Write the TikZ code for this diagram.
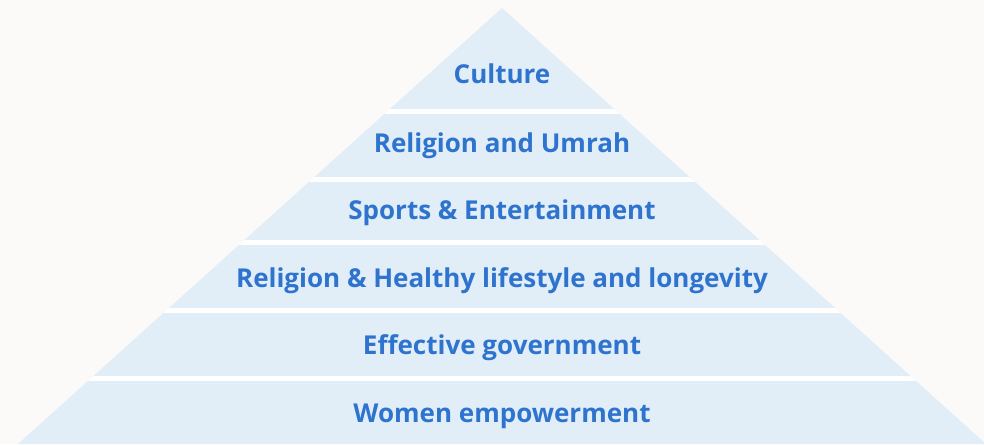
\documentclass[tikz,border=0pt]{standalone}
\usepackage{fontspec}
\setmainfont{Open Sans}
\definecolor{pagebg}{HTML}{FBFAF8}
\definecolor{layerfill}{HTML}{E1EEF7}
\definecolor{layertext}{HTML}{2E74CF}
\begin{document}
\begin{tikzpicture}[x=1pt,y=-1pt,
    layer/.style={anchor=base,text=layertext,font=\bfseries\fontsize{26}{30}\selectfont}]
  \fill[pagebg] (0,0) rectangle (984,444);
  \useasboundingbox (0,0) rectangle (984,444);
  % pyramid body
  \begin{scope}
    \clip (0,0) rectangle (984,444);
    \fill[layerfill] (502,8) -- (18,444) -- (986,444) -- cycle;
    \clip (502,8) -- (18,444) -- (986,444) -- cycle;
    \foreach \y in {111.5,179.5,242.5,310.5,378.5}
      \draw[white,line width=4.5pt] (0,\y) -- (984,\y);
  \end{scope}
  % layer labels, top to bottom
  \node[layer] (culture)  at (502,83)  {Culture};
  \node[layer] (umrah)    at (502,152) {Religion and Umrah};
  \node[layer] (sports)   at (502,219) {Sports \& Entertainment};
  \node[layer] (health)   at (502,287) {Religion \& Healthy lifestyle and longevity};
  \node[layer] (govt)     at (502,354) {Effective government};
  \node[layer] (women)    at (502,422) {Women empowerment};
\end{tikzpicture}
\end{document}
